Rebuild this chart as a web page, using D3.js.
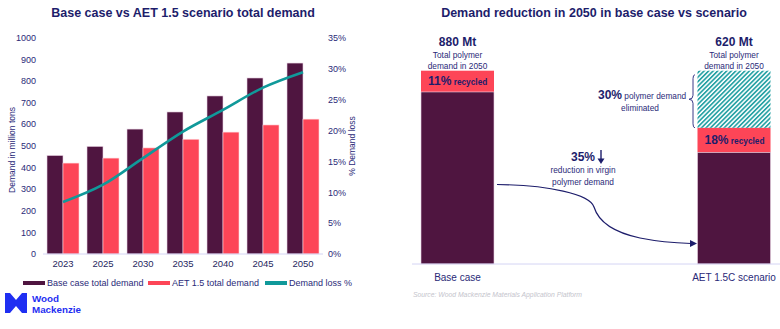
<!DOCTYPE html>
<html>
<head>
<meta charset="utf-8">
<script src="https://cdn.jsdelivr.net/npm/d3@7"></script>
<style>
  body { margin: 0; background: #fff; }
  svg { display: block; font-family: "Liberation Sans", Arial, sans-serif; }
</style>
</head>
<body>
<svg id="chart" width="780" height="329"></svg>
<script>
// left panel: demand per year
const years = ["2023", "2025", "2030", "2035", "2040", "2045", "2050"];
const baseDemand = [455, 497, 577, 656, 730, 813, 882];
const aetDemand = [420, 443, 490, 530, 563, 596, 623];
const demandLoss = [0.084, 0.112, 0.155, 0.198, 0.233, 0.269, 0.294];
const leftTicks = [0, 100, 200, 300, 400, 500, 600, 700, 800, 900, 1000];
const rightTicks = [0, 0.05, 0.10, 0.15, 0.20, 0.25, 0.30, 0.35];

// right panel: 2050 comparison
const cases = ["Base case", "AET 1.5C scenario"];
const totals2050 = [880, 620];
const recycledShare = [0.11, 0.18];

const navy = "#1d1d6b";
const plum = "#4f1540";
const coral = "#fd4557";
const teal = "#10999a";

const svg = d3.select("#chart");

const defs = svg.append("defs");
defs.append("pattern")
    .attr("id", "hatch")
    .attr("patternUnits", "userSpaceOnUse")
    .attr("width", 3.2).attr("height", 3.2)
    .attr("patternTransform", "rotate(45)")
    .append("rect")
    .attr("width", 1.7).attr("height", 3.2)
    .attr("fill", "#2aa3a6");

/* ---------- left chart ---------- */
const left = {x0: 43, x1: 323, top: 37.5, bottom: 254};

const x = d3.scaleBand().domain(years)
    .range([left.x0, left.x1]).paddingInner(0.2).paddingOuter(0.1);
const xSub = d3.scaleBand().domain(["base", "aet"]).range([0, x.bandwidth()]);
const y = d3.scaleLinear().domain([0, 1000]).range([left.bottom, left.top]);
const yPct = d3.scaleLinear().domain([0, 0.35]).range([left.bottom, left.top]);

svg.append("text")
    .attr("x", 183).attr("y", 17)
    .attr("text-anchor", "middle")
    .style("font-size", "12.5px").style("font-weight", "bold")
    .style("fill", navy)
    .text("Base case vs AET 1.5 scenario total demand");

const yAxis = svg.append("g")
    .attr("transform", `translate(${left.x0 - 4},0)`)
    .call(d3.axisLeft(y).tickValues(leftTicks).tickSize(0).tickPadding(3)
        .tickFormat(d3.format("d")));
const yAxisR = svg.append("g")
    .attr("transform", `translate(${left.x1 + 2},0)`)
    .call(d3.axisRight(yPct).tickValues(rightTicks).tickSize(0).tickPadding(3)
        .tickFormat(d3.format(".0%")));
[yAxis, yAxisR].forEach(g => {
    g.select(".domain").remove();
    g.selectAll("text").style("font-size", "9px").style("fill", "#2a2a78")
        .style("font-family", "Liberation Sans, Arial, sans-serif");
});

svg.append("text")
    .attr("transform", "rotate(-90)")
    .attr("x", -150).attr("y", 15)
    .attr("text-anchor", "middle")
    .style("font-size", "8.5px").style("fill", "#2a2a78")
    .text("Demand in million tons");
svg.append("text")
    .attr("transform", "rotate(-90)")
    .attr("x", -146).attr("y", 355)
    .attr("text-anchor", "middle")
    .style("font-size", "8.5px").style("fill", "#2a2a78")
    .text("% Demand loss");

const groups = svg.append("g").selectAll("g")
    .data(years).join("g")
    .attr("transform", d => `translate(${x(d)},0)`);
groups.append("rect")
    .attr("x", xSub("base")).attr("width", xSub.bandwidth())
    .attr("y", (d, i) => y(baseDemand[i]))
    .attr("height", (d, i) => y(0) - y(baseDemand[i]))
    .attr("fill", plum).attr("stroke", "#e9d3e3").attr("stroke-width", 0.6);
groups.append("rect")
    .attr("x", xSub("aet")).attr("width", xSub.bandwidth())
    .attr("y", (d, i) => y(aetDemand[i]))
    .attr("height", (d, i) => y(0) - y(aetDemand[i]))
    .attr("fill", coral).attr("stroke", "#ffd6da").attr("stroke-width", 0.6);

svg.append("line")
    .attr("x1", left.x0).attr("x2", left.x1)
    .attr("y1", left.bottom).attr("y2", left.bottom)
    .attr("stroke", "#d4d4f4").attr("stroke-width", 1);

const xAxis = svg.append("g")
    .attr("transform", `translate(0,${left.bottom})`)
    .call(d3.axisBottom(x).tickSize(0).tickPadding(6));
xAxis.select(".domain").remove();
xAxis.selectAll("text").style("font-size", "9.5px").style("fill", "#1f1f5e")
    .style("font-family", "Liberation Sans, Arial, sans-serif");

svg.append("path")
    .datum(years)
    .attr("d", d3.line()
        .x(d => x(d) + x.bandwidth() / 2)
        .y((d, i) => yPct(demandLoss[i]))
        .curve(d3.curveMonotoneX))
    .attr("fill", "none").attr("stroke", teal).attr("stroke-width", 2.6);

// legend
const legendItems = [
    {label: "Base case total demand", color: plum, x: 23},
    {label: "AET 1.5 total demand", color: coral, x: 148},
    {label: "Demand loss %", color: teal, x: 265}
];
const legend = svg.append("g").selectAll("g")
    .data(legendItems).join("g")
    .attr("transform", d => `translate(${d.x},283)`);
legend.append("rect")
    .attr("x", 0).attr("y", -2).attr("width", 22).attr("height", 4)
    .attr("fill", d => d.color);
legend.append("text")
    .attr("x", 24).attr("y", 3.3)
    .style("font-size", "9px").style("fill", "#2a2a78")
    .text(d => d.label);

// logo
const logo = svg.append("g");
logo.append("path")
    .attr("d", "M5,293 L10,293 L16,300 L22,293 L27,293 L27,313 L22,313 L16,306 L10,313 L5,313 L5,308 L11,303 L5,298 Z")
    .attr("fill", "#1f2ff2");
logo.append("path")
    .attr("d", "M5,293 L16,305 L27,293 L27,313 L16,303 L5,313 Z")
    .attr("fill", "#1f2ff2");
logo.append("text")
    .attr("x", 32).attr("y", 301.5)
    .style("font-size", "9.8px").style("font-weight", "bold").style("fill", "#1f2ff2")
    .text("Wood");
logo.append("text")
    .attr("x", 32).attr("y", 312.5)
    .style("font-size", "9.8px").style("font-weight", "bold").style("fill", "#1f2ff2")
    .text("Mackenzie");

/* ---------- right chart ---------- */
const right = {x0: 412, x1: 780, top: 70.7, bottom: 264};
const xc = d3.scalePoint().domain(cases).range([457.5, 734]);
const barW = 73;
const yr = d3.scaleLinear().domain([0, totals2050[0]]).range([right.bottom, right.top]);

svg.append("text")
    .attr("x", 594).attr("y", 17)
    .attr("text-anchor", "middle")
    .style("font-size", "12.5px").style("font-weight", "bold")
    .style("fill", navy)
    .text("Demand reduction in 2050 in base case vs scenario");

// stacked segments per case: virgin, recycled, eliminated
const segments = [];
cases.forEach((c, i) => {
    const total = totals2050[i];
    const recycled = total * recycledShare[i];
    const virgin = total - recycled;
    const eliminated = totals2050[0] - total;
    segments.push({c, y0: 0, y1: virgin, fill: plum});
    segments.push({c, y0: virgin, y1: total, fill: coral});
    if (eliminated > 0) segments.push({c, y0: total, y1: total + eliminated, fill: "url(#hatch)"});
});
svg.append("g").selectAll("rect")
    .data(segments).join("rect")
    .attr("x", d => xc(d.c) - barW / 2).attr("width", barW)
    .attr("y", d => yr(d.y1)).attr("height", d => yr(d.y0) - yr(d.y1))
    .attr("fill", d => d.fill);
svg.append("g").selectAll("rect")
    .data(cases).join("rect")
    .attr("x", d => xc(d) - barW / 2).attr("width", barW)
    .attr("y", (d, i) => yr(totals2050[i] * (1 - recycledShare[i])))
    .attr("height", (d, i) => yr(0) - yr(totals2050[i] * (1 - recycledShare[i])))
    .attr("fill", "none").attr("stroke", "#e9d3e3").attr("stroke-width", 0.6);

svg.append("line")
    .attr("x1", right.x0).attr("x2", right.x1)
    .attr("y1", right.bottom).attr("y2", right.bottom)
    .attr("stroke", "#d4d4f4").attr("stroke-width", 1);

// totals and captions above bars
cases.forEach((c, i) => {
    const cx = xc(c);
    svg.append("text").attr("x", cx).attr("y", 45.5).attr("text-anchor", "middle")
        .style("font-size", "12px").style("font-weight", "bold").style("fill", navy)
        .text(`${totals2050[i]} Mt`);
    ["Total polymer", "demand in 2050"].forEach((t, k) => {
        svg.append("text").attr("x", cx).attr("y", 58 + k * 11.3).attr("text-anchor", "middle")
            .style("font-size", "8.3px").style("fill", "#2a2a78").text(t);
    });
    const total = totals2050[i];
    const recycled = total * recycledShare[i];
    const midY = (yr(total - recycled) + yr(total)) / 2 + 4;
    const t = svg.append("text").attr("x", cx - barW / 2 + 7).attr("y", midY)
        .style("fill", navy).style("font-weight", "bold");
    t.append("tspan").style("font-size", "12px").text(`${Math.round(recycledShare[i] * 100)}%`);
    t.append("tspan").style("font-size", "8.3px").text(" recycled");

    svg.append("text").attr("x", cx).attr("y", 281).attr("text-anchor", "middle")
        .style("font-size", "10px").style("fill", "#2a2a78").text(c);
});

// eliminated demand brace and note
const elimTop = yr(totals2050[0]);
const elimBottom = yr(totals2050[1]);
const elimMid = (elimTop + elimBottom) / 2;
const bx = 693;
svg.append("path")
    .attr("d", `M${bx + 2},${elimTop + 4} Q${bx},${elimTop + 4} ${bx},${elimTop + 8}
        L${bx},${elimMid - 4} Q${bx},${elimMid} ${bx - 4},${elimMid}
        Q${bx},${elimMid} ${bx},${elimMid + 4}
        L${bx},${elimBottom - 4} Q${bx},${elimBottom} ${bx + 2},${elimBottom}`)
    .attr("fill", "none").attr("stroke", "#3a3a88").attr("stroke-width", 1);
const elimPct = Math.round((totals2050[0] - totals2050[1]) / totals2050[0] * 100);
const e1 = svg.append("text").attr("x", 598).attr("y", 98.5).style("fill", navy);
e1.append("tspan").style("font-size", "12px").style("font-weight", "bold").text(`${elimPct}%`);
e1.append("tspan").style("font-size", "8.3px").style("fill", "#2a2a78").text(" polymer demand");
svg.append("text").attr("x", 640).attr("y", 110.5).attr("text-anchor", "middle")
    .style("font-size", "8.3px").style("fill", "#2a2a78").text("eliminated");

// virgin demand reduction note
const virgin = totals2050.map((t, i) => t * (1 - recycledShare[i]));
const virginCut = Math.round((1 - virgin[1] / virgin[0]) * 100);
svg.append("text").attr("x", 595).attr("y", 160.5).attr("text-anchor", "end")
    .style("font-size", "12px").style("font-weight", "bold").style("fill", navy)
    .text(`${virginCut}%`);
svg.append("line").attr("x1", 601).attr("x2", 601).attr("y1", 150).attr("y2", 160)
    .attr("stroke", navy).attr("stroke-width", 1.4);
svg.append("path").attr("d", "M597.5,158.5 L604.5,158.5 L601,164 Z").attr("fill", navy);
["reduction in virgin", "polymer demand"].forEach((t, k) => {
    svg.append("text").attr("x", 583).attr("y", 173 + k * 11.5).attr("text-anchor", "middle")
        .style("font-size", "8.3px").style("fill", "#2a2a78").text(t);
});

// curved arrow from base case to scenario virgin demand
svg.append("path")
    .attr("d", "M497,184.5 C548,185 590,194 594,207 C598,220 612,232 640,238 C660,242 675,243 691,243.5")
    .attr("fill", "none").attr("stroke", "#1d1d6b").attr("stroke-width", 1.2);
svg.append("path").attr("d", "M690,240 L697,243.5 L690,247 Z").attr("fill", "#1d1d6b");

svg.append("text").attr("x", 413).attr("y", 297)
    .style("font-size", "6.8px").style("font-style", "italic").style("fill", "#c4c4cc")
    .text("Source: Wood Mackenzie Materials Application Platform");
</script>
</body>
</html>
